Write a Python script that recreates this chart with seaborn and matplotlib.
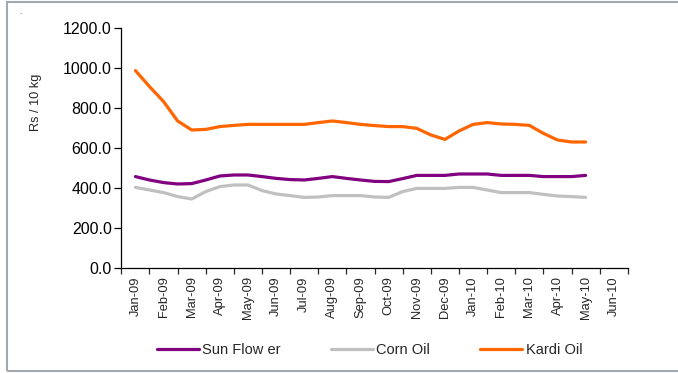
import numpy as np
import pandas as pd
import matplotlib
matplotlib.use("Agg")
import matplotlib.pyplot as plt
import seaborn as sns

# Month categories on the x axis
months = ["Jan-09", "Feb-09", "Mar-09", "Apr-09", "May-09", "Jun-09", "Jul-09",
          "Aug-09", "Sep-09", "Oct-09", "Nov-09", "Dec-09", "Jan-10", "Feb-10",
          "Mar-10", "Apr-10", "May-10", "Jun-10"]

# Semi-monthly observation dates (1st and 15th), Jan-09 .. May-10
obs_dates = pd.date_range("2009-01-01", "2010-05-01", freq="SMS")

# Prices, Rs / 10 kg
sun_flower = [457, 440, 427, 420, 422, 440, 460, 465, 465, 457, 448, 442, 440,
              448, 457, 448, 440, 433, 432, 447, 463, 463, 463, 470, 470, 470,
              463, 463, 463, 457, 457, 457, 463]
corn_oil = [403, 390, 377, 357, 345, 382, 407, 415, 415, 387, 370, 362, 353,
            355, 362, 362, 362, 355, 353, 382, 398, 398, 398, 403, 403, 390,
            377, 377, 377, 368, 360, 357, 353]
kardi_oil = [987, 907, 832, 735, 690, 693, 707, 713, 718, 718, 718, 718, 718,
             727, 735, 727, 718, 712, 707, 707, 698, 665, 643, 685, 718, 727,
             720, 718, 713, 673, 640, 630, 630]

series_names = ["Sun Flow er", "Corn Oil", "Kardi Oil"]
series_colors = ["#800080", "#C0C0C0", "#FF6600"]

# Position of each observation on the monthly category axis
pos = [(d.year - 2009) * 12 + (d.month - 1) + (0.5 if d.day >= 15 else 0.0)
       for d in obs_dates]

df = pd.DataFrame({
    "pos": pos * 3,
    "price": sun_flower + corn_oil + kardi_oil,
    "oil": np.repeat(series_names, len(pos)),
})

sns.set_style("white")
plt.rcParams["font.family"] = ["Liberation Sans", "DejaVu Sans"]

fig = plt.figure(figsize=(6.78, 3.73), dpi=100)
ax = fig.add_axes([0.179, 0.2815, 0.747, 0.6435])

sns.lineplot(data=df, x="pos", y="price", hue="oil", hue_order=series_names,
             palette=series_colors, linewidth=2.3, ax=ax, legend=False,
             sort=False)

# Axes styling: only left and bottom spines
for side in ["top", "right"]:
    ax.spines[side].set_visible(False)
for side in ["left", "bottom"]:
    ax.spines[side].set_color("black")
    ax.spines[side].set_linewidth(0.9)

ax.set_ylim(0, 1200)
ax.set_yticks(np.arange(0, 1201, 200))
ax.yaxis.set_major_formatter(matplotlib.ticker.FormatStrFormatter("%.1f"))
ax.tick_params(axis="y", direction="out", length=5, width=0.9, pad=2,
               labelsize=11.5, colors="black", left=True)

ax.set_xlim(-0.5, len(months) - 0.5)
ax.set_xticks(np.arange(-0.5, len(months), 1.0))
ax.set_xticklabels([])
ax.set_xticks(np.arange(len(months)), minor=True)
ax.set_xticklabels(months, minor=True, rotation=90, fontsize=9.3)
ax.tick_params(axis="x", which="major", direction="out", length=4, width=0.9,
               bottom=True)
ax.tick_params(axis="x", which="minor", length=0, pad=6, bottom=True)
ax.set_xlabel("")
ax.set_ylabel("")

fig.text(0.053, 0.727, "Rs / 10 kg", rotation=90, ha="center", va="center",
         fontsize=9.2)

# Legend along the bottom
handles = [matplotlib.lines.Line2D([], [], color=c, linewidth=2.3)
           for c in series_colors]
fig.legend(handles, series_names, loc="center", bbox_to_anchor=(0.545, 0.062),
           ncol=3, frameon=False, handlelength=2.9, handletextpad=0.25,
           columnspacing=3.4, fontsize=10.5)

# Outer frame of the chart area
frame = matplotlib.patches.Rectangle((7 / 678, 2 / 373), 1.2, 369 / 373,
                                     transform=fig.transFigure, fill=False,
                                     edgecolor="#A3A9B0", linewidth=1.5,
                                     clip_on=False)
fig.patches.append(frame)
fig.text(20 / 678, 1 - 13 / 373, ".", fontsize=6, color="#444444",
         ha="center", va="center")

fig.savefig("out.png", dpi=100)
